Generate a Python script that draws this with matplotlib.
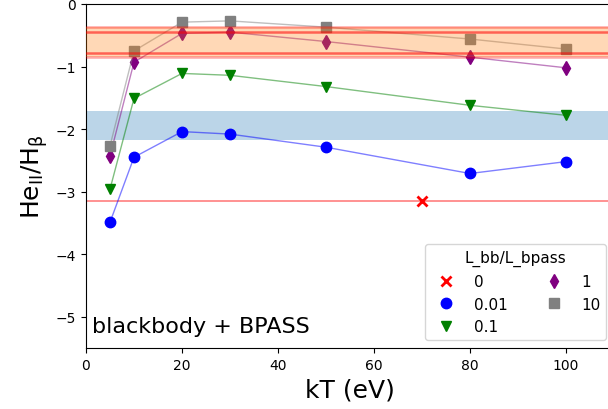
import matplotlib
matplotlib.use("Agg")
import matplotlib.pyplot as plt

kT = [5, 10, 20, 30, 50, 80, 100]
ratios = ["0", "0.01", "0.1", "1", "10"]
y_001 = [-3.49, -2.45, -2.04, -2.08, -2.29, -2.71, -2.52]
y_01 = [-2.96, -1.51, -1.11, -1.14, -1.32, -1.62, -1.78]
y_1 = [-2.43, -0.93, -0.47, -0.45, -0.60, -0.85, -1.02]
y_10 = [-2.27, -0.75, -0.29, -0.27, -0.37, -0.56, -0.72]
x_0 = [70]
y_0 = [-3.15]

orange_band = (-0.85, -0.375)
orange_inner = [-0.44, -0.79]
blue_band = (-2.18, -1.71)

fig = plt.figure(figsize=(6.08, 4.10), dpi=100)
W, H = 608, 410
ax = fig.add_axes([86 / W, 1 - 349 / H, (614 - 86) / W, (349 - 5) / H])

ax.axhspan(*orange_band, color="tab:orange", alpha=0.3, lw=0, zorder=3)
for yv in orange_band:
    ax.axhline(yv, color="red", alpha=0.35, lw=1.8, zorder=3)
for yv in orange_inner:
    ax.axhline(yv, color="red", alpha=0.55, lw=1.8, zorder=3)
ax.axhspan(*blue_band, color="tab:blue", alpha=0.3, lw=0, zorder=1)
ax.axhline(y_0[0], color="red", alpha=0.5, lw=1.2, zorder=1)

ax.plot(x_0, y_0, ls="none", marker="x", color="red", ms=6.5, mew=2, label=ratios[0])
series = [(y_001, "blue", "o", ratios[1], 7.5),
          (y_01, "green", "v", ratios[2], 7.5),
          (y_1, "purple", "d", ratios[3], 7.5),
          (y_10, "gray", "s", ratios[4], 7)]
for ys, c, m, lab, ms in series:
    ax.plot(kT, ys, color=c, alpha=0.5, lw=1, zorder=2)
    ax.plot(kT, ys, ls="none", marker=m, color=c, ms=ms, label=lab, zorder=2)

ax.set_xlim(0, 110)
ax.set_ylim(-5.5, 0)
ax.set_xticks([0, 20, 40, 60, 80, 100])
ax.set_yticks([0, -1, -2, -3, -4, -5])
ax.tick_params(labelsize=10)
ax.set_xlabel("kT (eV)", fontsize=18)
ax.set_ylabel(r"$\rm He_{II}/H_{\beta}$", fontsize=18)

ax.text(0.012, 0.035, "blackbody + BPASS", transform=ax.transAxes,
        fontsize=16, ha="left", va="bottom")

ax.legend(title="L_bb/L_bpass", ncol=2, loc="lower right", fontsize=11,
          title_fontsize=11)

fig.savefig("out.png", dpi=100)
